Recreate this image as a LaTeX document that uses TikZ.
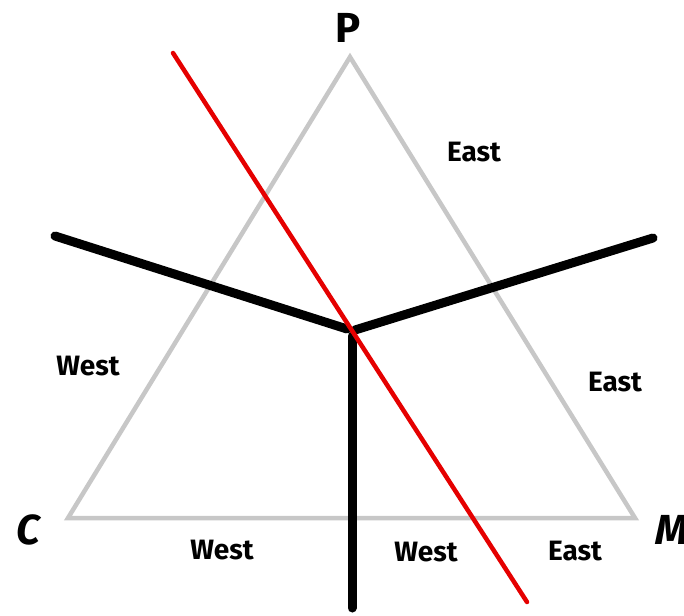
\documentclass[tikz,border=0pt]{standalone}
\usepackage{fontspec}
\setmainfont{Fira Sans}
\begin{document}
\begin{tikzpicture}[x=1pt,y=-1pt,
  tri/.style={draw=black!22,line width=4.5pt},
  arm/.style={draw=black,line width=9pt,line cap=round},
  cut/.style={draw=red!90!black,line width=4.5pt,line cap=round},
  lab/.style={font=\fontsize{28}{28}\selectfont\bfseries},
  vert/.style={font=\fontsize{42}{42}\selectfont\bfseries}]
\useasboundingbox (0,0) rectangle (684,615);
\coordinate (P) at (350,57);
\coordinate (C) at (68,518);
\coordinate (M) at (635,518);
\draw[tri,line join=miter] (P) -- (C) -- (M) -- cycle;
\coordinate (L) at (55,236);
\coordinate (Lc) at (347,329);
\coordinate (R) at (653,238);
\coordinate (Rc) at (355,330);
\coordinate (Vt) at (352,336);
\coordinate (Vb) at (352,608);
\draw[arm] (L) -- (Lc);
\draw[arm] (Rc) -- (R);
\draw[arm] (Vt) -- (Vb);
\coordinate (A) at (173,53);
\coordinate (B) at (527,602);
\draw[cut] (A) -- (B);
\node[vert] (p) at (348,28) {P};
\node[vert,font=\fontsize{42}{42}\selectfont\bfseries\itshape] (c) at (28,530) {C};
\node[vert,font=\fontsize{42}{42}\selectfont\bfseries\itshape,anchor=west] (m) at (652,530) {M};
\node[lab] (e1) at (474,152) {East};
\node[lab] (w1) at (88,366) {West};
\node[lab] (e2) at (615,382) {East};
\node[lab] (w2) at (222,550) {West};
\node[lab] (w3) at (426,552) {West};
\node[lab] (e3) at (575,551) {East};
\end{tikzpicture}
\end{document}
